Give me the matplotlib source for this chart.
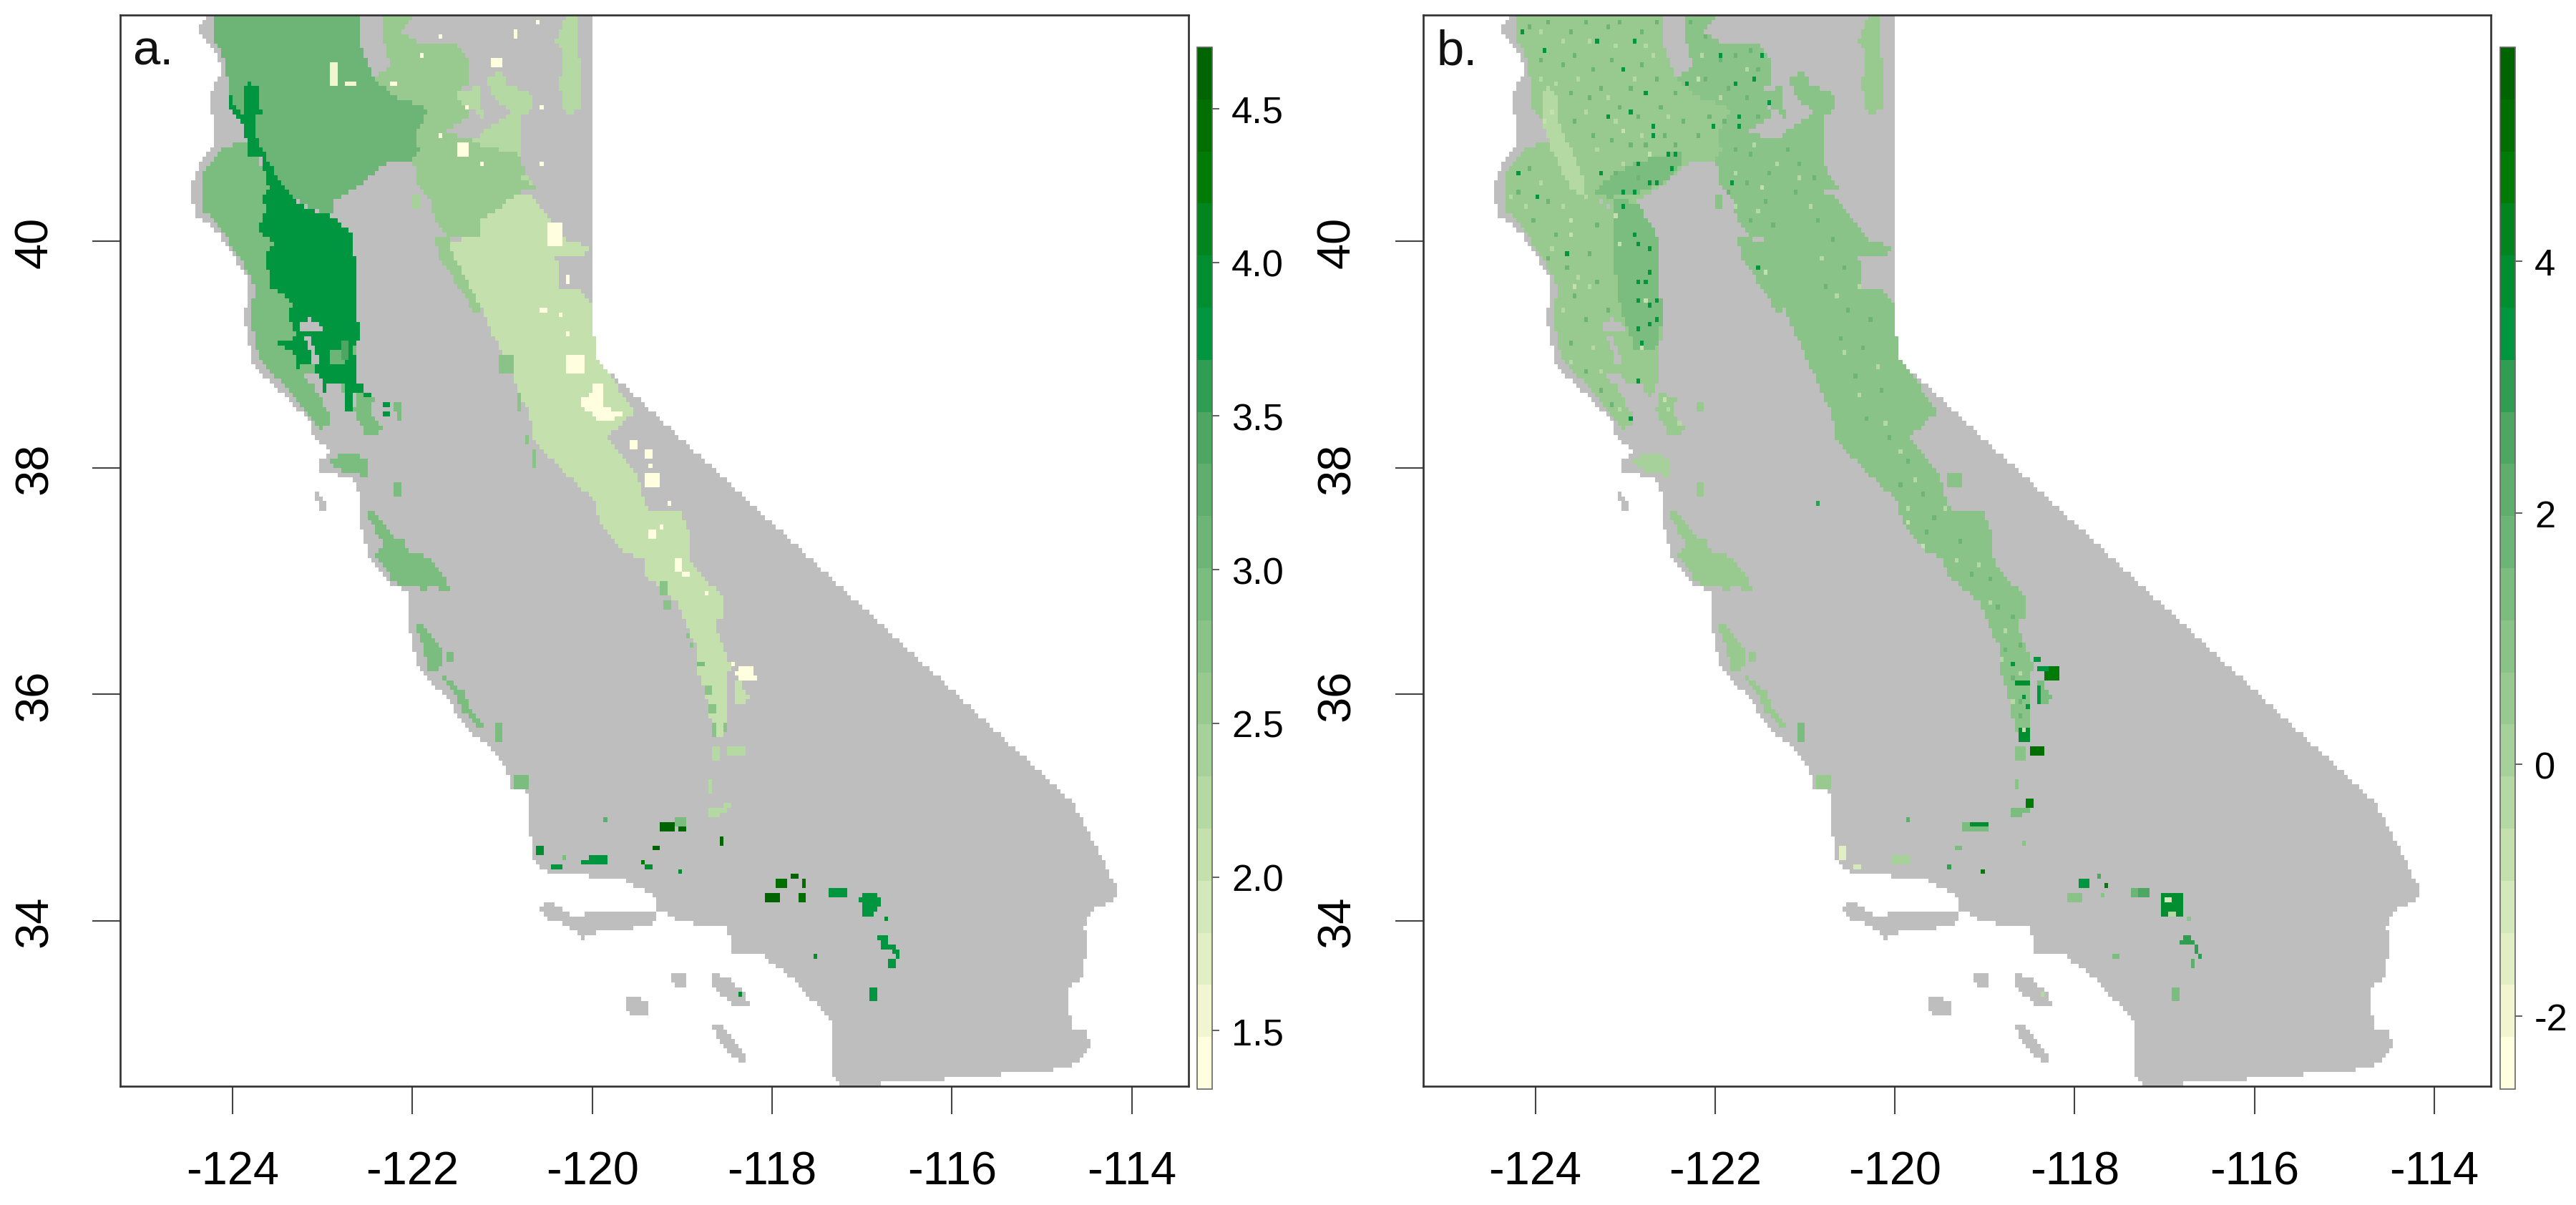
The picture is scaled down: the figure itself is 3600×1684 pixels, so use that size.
import numpy as np
import matplotlib
matplotlib.use('Agg')
import matplotlib.pyplot as plt
from matplotlib.colors import ListedColormap, BoundaryNorm
from matplotlib.path import Path

plt.rcParams['font.family'] = ['Liberation Sans', 'DejaVu Sans']

W, H = 3600, 1685
CELL = 1 / 24.0

xlim = (-125.25, -113.37)
ylim = (32.54, 42.0)
xticks = [-124, -122, -120, -118, -116, -114]
yticks = [34, 36, 38, 40]
cbar_ticks_a = [1.5, 2.0, 2.5, 3.0, 3.5, 4.0, 4.5]
cbar_ticks_b = [-2, 0, 2, 4]
range_a = (1.31, 4.70)
range_b = (-2.58, 5.70)

ramp = ['#ffffe0', '#f1f6d0', '#e2efc4', '#d3e9bb', '#c3e0ad', '#b4d9a3', '#a6d19a',
        '#98ca90', '#8ac388', '#7bbc7f', '#6db577', '#5fae6d', '#4da763', '#2f9e52',
        '#00953f', '#008e30', '#00851f', '#007b05', '#006f00', '#006400']

# outlines, lon/lat
state = [(-124.28, 42.0), (-120.0, 42.0), (-120.0, 38.99), (-114.65, 35.04), (-114.15, 34.27),
         (-114.2, 34.18), (-114.45, 34.09), (-114.53, 33.96), (-114.5, 33.76), (-114.55, 33.5),
         (-114.7, 33.41), (-114.68, 33.05), (-114.5, 33.02), (-114.46, 32.87), (-114.7, 32.7),
         (-115.77, 32.62), (-116.3, 32.59), (-116.8, 32.56), (-116.81, 32.53), (-117.2, 32.53),
         (-117.32, 32.64), (-117.35, 33.13), (-117.75, 33.47), (-118.1, 33.69), (-118.46, 33.69),
         (-118.49, 33.96), (-118.77, 33.96), (-119.07, 34.02), (-119.27, 34.09), (-119.32, 34.22),
         (-119.63, 34.36), (-119.98, 34.39), (-120.44, 34.42), (-120.64, 34.5), (-120.69, 34.77),
         (-120.72, 34.89), (-120.69, 35.13), (-120.92, 35.19), (-120.95, 35.36), (-121.16, 35.57),
         (-121.32, 35.63), (-121.65, 35.99), (-121.95, 36.25), (-122.03, 36.58), (-122.03, 36.9),
         (-122.23, 36.97), (-122.48, 37.2), (-122.57, 37.46), (-122.57, 37.75), (-122.68, 37.91),
         (-123.06, 37.98), (-123.03, 38.08), (-122.88, 38.13), (-123.09, 38.25), (-123.14, 38.41),
         (-123.44, 38.65), (-123.77, 38.9), (-123.87, 39.32), (-123.82, 39.68), (-124.0, 39.88),
         (-124.15, 40.08), (-124.4, 40.22), (-124.48, 40.45), (-124.35, 40.73), (-124.2, 40.87),
         (-124.23, 41.15), (-124.23, 41.35), (-124.1, 41.49), (-124.23, 41.72), (-124.4, 41.86)]
islands = [
    [(-120.57, 34.10), (-120.52, 34.16), (-120.36, 34.13), (-120.21, 34.03), (-119.93, 34.10),
     (-119.58, 34.09), (-119.30, 34.06), (-119.32, 33.97), (-119.58, 33.93), (-119.93, 33.90),
     (-120.11, 33.84), (-120.29, 33.97), (-120.49, 34.02)],
    [(-119.12, 33.53), (-118.98, 33.53), (-118.97, 33.42), (-119.05, 33.42), (-119.12, 33.47)],
    [(-118.65, 33.53), (-118.51, 33.51), (-118.31, 33.38), (-118.26, 33.25), (-118.46, 33.26), (-118.65, 33.42)],
    [(-119.62, 33.33), (-119.5, 33.33), (-119.37, 33.27), (-119.37, 33.16), (-119.55, 33.16), (-119.62, 33.22)],
    [(-118.65, 33.07), (-118.56, 33.07), (-118.31, 32.85), (-118.31, 32.76), (-118.46, 32.79), (-118.61, 32.97)],
    [(-123.1, 37.82), (-122.98, 37.72), (-122.97, 37.63), (-123.05, 37.65)],
]

north = [(-124.2, 42.0), (-122.58, 42.0), (-122.58, 41.77), (-122.45, 41.45), (-122.22, 41.29), (-121.82, 41.17),
         (-121.97, 40.93), (-121.92, 40.81), (-122.02, 40.7), (-122.27, 40.7), (-122.63, 40.47), (-122.86, 40.36),
         (-122.86, 40.22), (-123.24, 40.33), (-123.54, 40.56), (-123.8, 40.87), (-124.05, 41.29), (-124.07, 41.57),
         (-124.2, 41.77)]
coast = [(-124.1, 40.84), (-124.35, 40.59), (-124.33, 40.28), (-124.1, 40.08), (-123.9, 39.82), (-123.75, 39.6),
         (-123.8, 39.32), (-123.7, 38.95), (-123.34, 38.67), (-123.01, 38.34), (-122.83, 38.47), (-122.63, 38.75),
         (-122.63, 39.32), (-123.29, 39.88), (-123.54, 40.45), (-123.82, 40.87)]
coast_b = [(-122.63, 38.67), (-122.43, 38.61), (-122.48, 38.5), (-122.33, 38.36), (-122.38, 38.3), (-122.53, 38.31),
           (-122.65, 38.5)]
marin = [(-122.93, 38.1), (-122.58, 38.11), (-122.5, 38.05), (-122.48, 37.93), (-122.68, 37.94), (-122.88, 38.0)]
dark = [(-124.06, 41.32), (-124.06, 41.2), (-123.87, 41.01), (-123.82, 40.76), (-123.69, 40.76), (-123.59, 40.47),
        (-123.69, 40.36), (-123.59, 40.3), (-123.67, 40.21), (-123.72, 40.11), (-123.52, 39.97), (-123.64, 39.91),
        (-123.57, 39.6), (-123.34, 39.46), (-123.39, 39.37), (-123.29, 39.15), (-123.49, 39.1), (-123.29, 39.0),
        (-123.29, 38.89), (-123.09, 38.92), (-123.04, 38.75), (-122.63, 38.75), (-122.65, 39.09), (-122.58, 39.15),
        (-122.58, 39.29), (-122.63, 39.32), (-122.63, 39.8), (-122.68, 40.08), (-122.88, 40.22), (-123.29, 40.33),
        (-123.49, 40.56), (-123.72, 40.87), (-123.77, 41.1), (-123.65, 41.14), (-123.65, 41.18), (-123.72, 41.19),
        (-123.72, 41.35), (-123.85, 41.45), (-123.87, 41.1)]
gap1 = [(-123.24, 39.27), (-123.14, 39.33), (-123.01, 39.26), (-123.01, 39.2), (-123.24, 39.2)]
gap2 = [(-123.21, 39.15), (-123.14, 39.15), (-123.04, 38.95), (-123.09, 38.89), (-123.14, 39.03)]
gap3 = [(-123.21, 38.82), (-123.04, 38.82), (-122.96, 38.74), (-122.81, 38.73), (-122.68, 38.53), (-122.65, 38.36),
        (-122.83, 38.33), (-122.93, 38.47), (-123.09, 38.72)]
northeast = [(-122.35, 42.0), (-121.99, 42.0), (-122.12, 41.86), (-121.87, 41.73), (-121.51, 41.74), (-121.39, 41.6),
             (-121.39, 41.38), (-121.51, 41.32), (-121.36, 41.1), (-121.64, 40.98), (-121.36, 40.9), (-120.85, 40.87),
             (-120.75, 40.62), (-120.6, 40.47), (-120.85, 40.42), (-121.05, 40.28), (-121.26, 40.19), (-121.26, 40.05),
             (-121.61, 40.04), (-121.74, 40.16), (-121.82, 40.39), (-121.97, 40.53), (-121.97, 40.64), (-122.02, 40.7),
             (-121.92, 40.81), (-121.97, 40.93), (-121.82, 41.17), (-122.22, 41.29), (-122.45, 41.45), (-122.25, 41.55),
             (-122.35, 41.86)]
foothill = [(-121.74, 40.04), (-121.59, 40.04), (-121.21, 39.4), (-121.31, 39.37), (-121.51, 39.63), (-121.72, 39.88)]
patch1 = [(-121.51, 41.33), (-121.26, 41.36), (-121.21, 41.07), (-121.36, 41.18), (-121.51, 41.26)]
patch2 = [(-121.18, 41.46), (-121.0, 41.5), (-120.95, 41.39), (-120.67, 41.29), (-120.65, 41.18), (-120.78, 41.11),
          (-120.78, 40.76), (-121.36, 40.87), (-121.16, 41.01), (-120.9, 41.12), (-121.13, 41.32)]
patch3 = [(-120.29, 42.0), (-120.17, 42.0), (-120.12, 41.2), (-120.29, 41.1), (-120.37, 41.38), (-120.32, 41.63),
          (-120.4, 41.77)]
patch4 = [(-120.83, 40.64), (-120.6, 40.47), (-120.75, 40.53)]
sierra = [(-121.05, 40.28), (-120.85, 40.42), (-120.65, 40.39), (-120.45, 40.19), (-120.29, 40.02), (-120.04, 39.95),
          (-120.09, 39.88), (-120.4, 39.88), (-120.37, 39.57), (-120.14, 39.6), (-119.99, 39.43), (-119.99, 39.2),
          (-119.94, 38.95), (-119.79, 38.81), (-119.53, 38.49), (-119.84, 38.27), (-119.53, 37.96), (-119.41, 37.71),
          (-119.36, 37.62), (-119.03, 37.63), (-118.93, 37.43), (-118.9, 37.15), (-118.7, 36.98), (-118.55, 36.87),
          (-118.55, 36.67), (-118.65, 36.64), (-118.57, 36.47), (-118.47, 36.27), (-118.5, 36.02), (-118.52, 35.68),
          (-118.6, 35.6), (-118.65, 35.68), (-118.78, 36.11), (-118.85, 36.27), (-118.83, 36.42), (-118.96, 36.61),
          (-119.06, 36.81), (-119.21, 36.92), (-119.44, 37.07), (-119.39, 37.18), (-119.67, 37.26), (-119.92, 37.54),
          (-119.97, 37.71), (-120.35, 37.99), (-120.65, 38.25), (-120.7, 38.47), (-121.0, 39.0), (-121.21, 39.37),
          (-121.61, 39.99), (-121.26, 40.05), (-121.26, 40.19)]
santa_cruz = [(-122.48, 37.62), (-122.41, 37.6), (-122.2, 37.38), (-122.08, 37.36), (-122.05, 37.25), (-121.87, 37.23),
              (-121.65, 37.07), (-121.58, 36.91), (-121.7, 36.91), (-121.75, 36.97), (-121.87, 36.92), (-122.0, 36.97),
              (-122.2, 36.98), (-122.41, 37.22), (-122.33, 37.32), (-122.48, 37.55)]
big_sur = [(-121.95, 36.61), (-121.87, 36.61), (-121.75, 36.47), (-121.66, 36.39), (-121.65, 36.29), (-121.75, 36.2),
           (-121.82, 36.23), (-121.87, 36.39), (-121.93, 36.5)]
big_sur2 = [(-121.7, 36.19), (-121.59, 36.12), (-121.42, 36.02), (-121.32, 35.82), (-121.19, 35.72), (-121.29, 35.72),
            (-121.44, 35.85), (-121.54, 36.02), (-121.67, 36.13)]
tehachapi = [(-118.73, 34.99), (-118.6, 34.99), (-118.47, 35.06), (-118.46, 35.0), (-118.6, 34.93), (-118.68, 34.92)]
owens = [(-118.45, 36.33), (-118.4, 36.22), (-118.22, 36.27), (-118.17, 36.13), (-118.35, 36.12), (-118.42, 36.16)]
owens_s = [(-118.4, 36.11), (-118.35, 36.11), (-118.26, 35.96), (-118.35, 35.91), (-118.41, 35.94)]
tahoe = [(-119.99, 38.74), (-119.89, 38.74), (-119.86, 38.55), (-119.66, 38.47), (-119.89, 38.39), (-120.04, 38.5),
         (-120.17, 38.58), (-120.04, 38.64)]
san_jac = [(-116.99, 34.24), (-116.84, 34.24), (-116.79, 34.18), (-116.86, 34.05), (-116.99, 34.05), (-117.03, 34.18)]
arc_a = [(-116.83, 33.87), (-116.71, 33.87), (-116.71, 33.82), (-116.62, 33.78), (-116.58, 33.68), (-116.64, 33.68),
         (-116.66, 33.76), (-116.79, 33.76)]

# panel a: polygons with their value, painted in this order
zones_a = [(coast, 2.9), (north, 3.05), (northeast, 2.6), (foothill, 2.6), (sierra, 2.07), (patch1, 2.25), (patch2, 2.25),
           (patch3, 2.3), (patch4, 2.3), (dark, 3.77), (gap1, np.nan), (gap2, np.nan), (gap3, np.nan), (coast_b, 2.9),
           (marin, 2.95), (santa_cruz, 2.95), (big_sur, 2.9), (big_sur2, 2.85), (tehachapi, 2.25), (owens, 1.35),
           (owens_s, 2.15), (tahoe, 1.35), (san_jac, 3.75), (arc_a, 3.8)]
# panel a: small boxes lon0, lon1, lat0, lat1, value
boxes_a = [(-120.5, -120.35, 39.97, 40.16, 1.4), (-120.29, -120.09, 38.84, 39.0, 1.4), (-119.58, -119.51, 38.16, 38.25, 1.4),
           (-119.41, -119.33, 38.08, 38.16, 1.4), (-119.41, -119.25, 37.84, 37.96, 1.4), (-119.37, -119.33, 37.99, 38.03, 1.4),
           (-120.88, -120.83, 41.79, 41.87, 1.4), (-121.1, -121.03, 41.55, 41.62, 1.4), (-121.49, -121.4, 40.76, 40.87, 1.4),
           (-120.29, -120.24, 39.63, 39.7, 1.4), (-120.58, -120.5, 39.37, 39.41, 1.4), (-120.28, -120.25, 39.16, 39.2, 1.4),
           (-122.9, -122.86, 41.38, 41.59, 1.6), (-122.75, -122.65, 41.38, 41.4, 1.5), (-122.25, -122.17, 41.38, 41.4, 1.4),
           (-119.08, -119.03, 37.08, 37.21, 1.4), (-118.98, -118.92, 37.04, 37.08, 1.4), (-119.36, -119.31, 37.38, 37.45, 1.4),
           (-119.25, -119.21, 37.45, 37.49, 1.4),
           (-122.0, -121.91, 40.31, 40.42, 2.4), (-122.9, -122.78, 38.93, 39.05, 3.1), (-122.78, -122.72, 38.98, 39.12, 3.4),
           (-123.0, -122.96, 38.69, 38.73, 3.8), (-122.73, -122.68, 38.52, 38.73, 3.8), (-122.64, -122.55, 38.66, 38.73, 3.7),
           (-122.52, -122.46, 38.62, 38.66, 3.8), (-122.32, -122.25, 38.54, 38.59, 3.8), (-122.32, -122.25, 38.45, 38.49, 3.8),
           (-122.18, -122.12, 38.51, 38.57, 2.9), (-122.15, -122.12, 38.42, 38.47, 2.9), (-122.2, -122.14, 37.76, 37.86, 2.9),
           (-121.62, -121.55, 36.29, 36.36, 2.9), (-121.08, -120.99, 35.61, 35.74, 2.9), (-120.86, -120.71, 35.17, 35.28, 2.85),
           (-118.65, -118.58, 35.41, 35.54, 2.2), (-118.47, -118.32, 35.46, 35.54, 2.2), (-118.68, -118.66, 35.15, 35.23, 2.2),
           (-121.03, -120.88, 38.84, 38.99, 2.7), (-120.83, -120.8, 38.5, 38.67, 2.7), (-120.73, -120.7, 38.2, 38.3, 2.7),
           (-120.67, -120.65, 38.0, 38.15, 2.7), (-119.23, -119.18, 36.9, 36.99, 2.8), (-119.2, -119.15, 36.76, 36.82, 2.8),
           (-118.96, -118.93, 36.5, 36.53, 2.8), (-118.92, -118.89, 36.42, 36.46, 2.8), (-118.83, -118.75, 36.24, 36.28, 2.9),
           (-118.74, -118.68, 36.0, 36.06, 2.8), (-118.68, -118.64, 35.84, 35.9, 2.8), (-118.65, -118.62, 35.63, 35.72, 2.8),
           (-118.55, -118.52, 35.67, 35.74, 2.8),
           (-119.25, -119.08, 34.79, 34.87, 4.6), (-119.04, -118.96, 34.79, 34.84, 4.6), (-119.07, -118.96, 34.84, 34.91, 3.0),
           (-118.59, -118.54, 34.66, 34.74, 4.6), (-119.32, -119.25, 34.62, 34.66, 4.6), (-120.62, -120.54, 34.58, 34.65, 3.9),
           (-120.45, -120.36, 34.45, 34.5, 3.7), (-120.02, -119.83, 34.5, 34.58, 3.7), (-120.11, -120.07, 34.5, 34.53, 3.8),
           (-119.45, -119.41, 34.5, 34.53, 4.2), (-119.4, -119.36, 34.45, 34.5, 3.9), (-119.03, -118.99, 34.42, 34.45, 3.9),
           (-119.87, -119.83, 34.87, 34.91, 3.3), (-120.32, -120.3, 34.53, 34.58, 3.0),
           (-118.08, -117.91, 34.18, 34.24, 4.6), (-117.96, -117.83, 34.29, 34.37, 4.5), (-117.79, -117.7, 34.37, 34.42, 4.6),
           (-117.66, -117.62, 34.29, 34.37, 4.5), (-117.7, -117.65, 34.19, 34.24, 4.5), (-117.35, -117.17, 34.2, 34.28, 3.75),
           (-116.73, -116.7, 34.0, 34.04, 3.9), (-116.69, -116.65, 33.58, 33.67, 3.8), (-116.91, -116.83, 33.29, 33.41, 3.8),
           (-117.54, -117.5, 33.67, 33.7, 3.9), (-118.36, -118.33, 33.33, 33.37, 3.9)]
# single pale cells lon, lat in panel a
spots_a = [(-121.69, 41.81), (-121.89, 41.65), (-120.61, 41.94), (-120.57, 40.69), (-121.23, 40.69), (-121.69, 40.94),
           (-121.39, 41.19), (-120.56, 41.18), (-120.35, 39.35), (-118.72, 36.9), (-119.16, 37.69)]

# panel b: same outlines, other values, plus read-off darker and paler parts
pale_stripe = [(-123.89, 41.38), (-123.75, 41.29), (-123.75, 41.07), (-123.5, 40.64), (-123.43, 40.39), (-123.6, 40.45),
               (-123.82, 40.81), (-123.92, 41.07)]
valley_edge = [(-123.14, 40.39), (-122.86, 40.33), (-122.65, 40.08), (-122.59, 39.32), (-122.65, 39.06), (-122.9, 39.06),
               (-123.07, 39.46), (-123.14, 39.94)]
shasta = [(-122.9, 40.7), (-122.36, 40.79), (-122.4, 40.64), (-122.61, 40.5), (-122.9, 40.42), (-123.18, 40.39), (-123.36, 40.45)]
sierra_mid = [(-119.4, 37.5), (-119.05, 37.5), (-118.7, 36.85), (-118.7, 36.5), (-119.0, 36.9), (-119.45, 37.15)]
arc_b = [(-116.83, 33.83), (-116.75, 33.87), (-116.65, 33.81), (-116.58, 33.68), (-116.63, 33.68), (-116.68, 33.77), (-116.81, 33.77)]

zones_b = [(coast, 0.45), (north, 0.5), (northeast, 0.75), (foothill, 0.75), (sierra, 0.75), (patch1, 0.75), (patch2, 0.75),
           (patch3, 0.6), (patch4, 0.75), (dark, 0.5), (gap1, np.nan), (gap2, np.nan), (gap3, np.nan), (coast_b, 0.45),
           (marin, 0.3), (santa_cruz, 0.4), (big_sur, 0.5), (big_sur2, 0.6), (pale_stripe, -0.1), (valley_edge, 1.35),
           (shasta, 1.3), (sierra_mid, 1.0), (owens_s, 1.2), (tehachapi, 1.2), (arc_b, 3.0)]
boxes_b = [(-122.0, -121.91, 40.31, 40.42, 1.1), (-122.18, -122.12, 38.51, 38.57, 0.7), (-122.2, -122.14, 37.76, 37.86, 0.6),
           (-121.62, -121.55, 36.29, 36.36, 0.7), (-121.08, -120.99, 35.61, 35.74, 1.3), (-120.86, -120.71, 35.17, 35.28, 0.4),
           (-118.32, -118.16, 36.12, 36.22, 4.8), (-118.41, -118.32, 36.2, 36.24, 3.5), (-118.39, -118.37, 35.94, 36.07, 3.5),
           (-118.64, -118.53, 36.09, 36.12, 3.8), (-118.62, -118.53, 35.6, 35.7, 3.8), (-118.48, -118.34, 35.47, 35.53, 4.9),
           (-118.64, -118.55, 35.41, 35.52, 0.9), (-118.65, -118.63, 35.17, 35.23, 1.0), (-118.54, -118.46, 34.99, 35.07, 4.8),
           (-119.24, -118.96, 34.79, 34.88, 1.5), (-119.17, -118.96, 34.83, 34.86, 4.0), (-119.87, -119.83, 34.88, 34.91, 2.0),
           (-118.58, -118.55, 34.67, 34.71, 1.0), (-119.31, -119.28, 34.62, 34.65, 1.5), (-119.4, -119.38, 34.46, 34.49, 3.0),
           (-119.03, -119.0, 34.42, 34.44, 4.5), (-120.63, -120.54, 34.57, 34.65, -1.5), (-120.46, -120.37, 34.45, 34.49, -1.0),
           (-120.04, -119.86, 34.51, 34.57, 0.0), (-117.94, -117.84, 34.3, 34.36, 3.5), (-117.75, -117.7, 34.37, 34.41, 2.5),
           (-118.08, -117.94, 34.17, 34.24, 0.8), (-117.65, -117.63, 34.29, 34.34, 4.8), (-117.7, -117.66, 34.2, 34.23, 1.0),
           (-117.36, -117.16, 34.2, 34.29, 1.6), (-117.29, -117.18, 34.21, 34.27, 2.8), (-117.02, -116.79, 34.04, 34.23, 3.8),
           (-116.99, -116.93, 34.17, 34.19, -1.0), (-116.93, -116.9, 34.06, 34.09, -0.5), (-116.7, -116.66, 33.59, 33.65, 2.0),
           (-116.91, -116.84, 33.31, 33.41, 1.5), (-116.75, -116.71, 33.99, 34.02, 1.0), (-117.56, -117.52, 33.66, 33.7, 1.2),
           (-118.37, -118.33, 33.33, 33.37, -0.5), (-119.42, -119.26, 37.83, 37.94, 0.9), (-118.44, -118.4, 36.29, 36.33, 3.5),
           (-120.88, -120.85, 37.68, 37.71, 3.0)]
# single cells
dark_b = [(-124.14, 41.86), (-124.19, 40.6), (-123.96, 40.4), (-123.64, 39.9), (-122.68, 41.02), (-122.7, 40.93), (-122.86, 40.69),
          (-122.72, 40.53), (-122.63, 40.53), (-122.52, 40.77), (-122.43, 40.76), (-122.49, 40.64), (-123.0, 40.3), (-122.88, 40.43),
          (-122.91, 40.07), (-122.86, 39.99), (-122.72, 39.73), (-122.86, 39.64), (-122.74, 39.43), (-122.86, 39.47), (-122.72, 39.27),
          (-122.84, 39.23), (-122.82, 39.1), (-122.86, 38.77), (-122.89, 38.55), (-122.95, 38.43), (-121.81, 40.5), (-122.33, 41.38),
          (-122.01, 41.02), (-121.72, 41.01), (-121.51, 39.78), (-121.74, 41.1), (-122.95, 41.15), (-123.29, 40.6), (-123.0, 40.45),
          (-122.72, 39.94), (-122.79, 39.66), (-122.66, 39.46), (-122.63, 39.32), (-121.58, 41.43), (-121.76, 41.4), (-121.47, 41.63),
          (-121.93, 41.66), (-121.4, 41.24), (-123.9, 41.7), (-123.3, 41.75), (-123.0, 41.5), (-122.75, 41.3), (-123.2, 41.1),
          (-122.9, 41.75), (-118.69, 36.27), (-118.51, 35.89), (-118.57, 35.96)]
mid_b = [(-124.05, 41.9), (-123.85, 41.95), (-123.6, 41.85), (-123.45, 41.92), (-123.2, 41.88), (-123.05, 41.95), (-122.8, 41.85),
         (-122.65, 41.92), (-123.95, 41.6), (-123.7, 41.55), (-123.55, 41.65), (-123.35, 41.5), (-123.15, 41.6), (-122.95, 41.35),
         (-122.8, 41.55), (-122.65, 41.45), (-123.6, 41.3), (-123.4, 41.25), (-123.25, 41.35), (-123.05, 41.2), (-122.85, 41.1),
         (-122.6, 41.2), (-122.45, 41.3), (-123.55, 41.05), (-123.35, 40.95), (-123.15, 40.9), (-122.95, 40.85), (-122.75, 40.85),
         (-122.55, 40.95), (-122.35, 41.05), (-122.2, 40.95), (-122.05, 41.1), (-123.1, 40.6), (-122.85, 40.55), (-122.45, 40.85),
         (-122.25, 41.95), (-122.1, 41.8), (-121.95, 41.6), (-121.75, 41.65), (-121.6, 41.7), (-121.5, 41.5), (-122.1, 41.45),
         (-121.85, 41.35), (-121.65, 41.25), (-121.5, 41.1), (-121.9, 41.05), (-121.75, 40.8), (-121.6, 40.75), (-121.4, 40.6),
         (-121.2, 40.8), (-121.05, 40.7), (-120.9, 40.55), (-121.85, 40.45), (-121.65, 40.5), (-121.45, 40.35), (-121.6, 40.2),
         (-121.35, 40.15), (-121.1, 40.42), (-124.2, 40.45), (-124.05, 40.65), (-123.85, 40.35), (-124.0, 40.2), (-123.75, 40.05),
         (-123.85, 39.85), (-123.65, 39.75), (-123.4, 39.9), (-123.55, 39.5), (-123.45, 39.3), (-123.6, 39.1), (-123.45, 38.85),
         (-123.25, 38.7), (-123.15, 38.55), (-122.95, 38.6), (-123.3, 40.15), (-123.3, 39.65), (-123.2, 39.4), (-120.85, 40.2),
         (-120.7, 40.0), (-120.55, 39.75), (-120.75, 39.6), (-120.5, 39.4), (-120.25, 39.3), (-120.6, 39.15), (-120.35, 39.05),
         (-120.45, 38.8), (-120.15, 38.7), (-120.3, 38.45), (-120.05, 38.25), (-119.85, 38.05), (-119.95, 37.85), (-119.7, 37.75),
         (-119.55, 37.55), (-119.65, 37.45), (-119.25, 37.35), (-119.15, 37.05), (-118.95, 37.0), (-118.85, 36.75), (-118.7, 36.7),
         (-118.75, 36.4), (-118.6, 36.45), (-118.7, 36.15), (-118.6, 35.95), (-118.62, 35.8)]
pale_b = [(-123.89, 41.07), (-123.8, 41.15), (-123.0, 40.98), (-123.62, 40.19), (-123.59, 40.07), (-123.55, 39.61), (-122.75, 39.47),
          (-122.8, 39.06), (-122.57, 38.6), (-122.18, 41.43), (-121.49, 40.47), (-121.44, 39.71), (-123.09, 40.22), (-123.07, 39.98),
          (-122.72, 40.76), (-119.67, 37.31), (-119.84, 37.51), (-118.72, 35.75), (-118.55, 35.68)]
pale2_b = [(-123.95, 41.85), (-123.7, 41.75), (-123.4, 41.78), (-123.1, 41.72), (-122.75, 41.72), (-123.95, 41.45), (-123.75, 41.4),
           (-123.5, 41.45), (-123.2, 41.25), (-122.9, 41.45), (-122.7, 41.65), (-123.45, 41.15), (-123.1, 41.05), (-122.8, 40.95),
           (-122.5, 41.1), (-123.3, 40.8), (-123.0, 40.7), (-122.15, 41.65), (-121.85, 41.8), (-121.65, 41.5), (-121.95, 41.25),
           (-121.55, 40.85), (-121.3, 40.7), (-121.05, 40.55), (-121.75, 40.6), (-121.5, 40.25), (-121.75, 40.3), (-124.25, 40.4),
           (-124.1, 40.3), (-123.95, 40.5), (-123.7, 40.3), (-123.8, 39.95), (-123.5, 39.7), (-123.7, 39.4), (-123.4, 39.6),
           (-123.6, 38.95), (-123.35, 39.05), (-123.25, 38.85), (-123.05, 38.5), (-122.5, 38.5), (-122.4, 38.4), (-120.95, 40.3),
           (-120.8, 39.85), (-120.65, 39.5), (-120.4, 39.6), (-120.55, 39.0), (-120.2, 38.9), (-120.4, 38.65), (-120.1, 38.4),
           (-119.95, 38.15), (-119.75, 37.9), (-119.85, 37.65), (-119.45, 37.65), (-119.3, 37.2), (-119.05, 37.15), (-118.95, 36.8),
           (-118.75, 36.55), (-118.8, 36.3), (-118.6, 36.2), (-118.68, 35.95)]


lons = np.arange(xlim[0], xlim[1] + CELL, CELL)
lats = np.arange(ylim[0], ylim[1] + CELL, CELL)
cx, cy = np.meshgrid(lons[:-1] + CELL / 2, lats[:-1] + CELL / 2)
pts = np.column_stack([cx.ravel(), cy.ravel()])


def inside(poly):
    return Path(poly + [poly[0]]).contains_points(pts).reshape(cx.shape)


land = inside(state)
for isl in islands:
    land |= inside(isl)


def paint(zones, boxes, singles, keep_gaps=True):
    z = np.full(cx.shape, np.nan)
    for poly, val in zones:
        z[inside(poly)] = val
    for x0, x1, y0, y1, val in boxes:
        z[(cx >= x0 - CELL / 4) & (cx <= x1 + CELL / 4) & (cy >= y0 - CELL / 4) & (cy <= y1 + CELL / 4)] = val
    for spots, val in singles:
        for x, y in spots:
            i = np.abs(lats[:-1] + CELL / 2 - y).argmin()
            j = np.abs(lons[:-1] + CELL / 2 - x).argmin()
            if np.isfinite(z[i, j]) or not keep_gaps:
                z[i, j] = val
    return z


grid_a = paint(zones_a, boxes_a, [(spots_a, 1.4)], keep_gaps=False)
grid_b = paint(zones_b, boxes_b, [(mid_b, 1.9), (pale2_b, -0.15), (dark_b, 3.3), (pale_b, -0.7)])

fig = plt.figure(figsize=(W / 300, H / 300), dpi=300)
fig.patch.set_facecolor('white')


def panel(x0, x1, cb0, cb1, grid, vrange, cticks, cfmt, tag, tagx):
    ax = fig.add_axes([x0 / W, 1 - 1519 / H, (x1 - x0) / W, 1497 / H])
    ax.pcolormesh(lons, lats, np.where(land, 1.0, np.nan), cmap=ListedColormap(['#bebebe']), antialiased=False)
    bounds = np.linspace(vrange[0], vrange[1], len(ramp) + 1)
    norm = BoundaryNorm(bounds, len(ramp))
    mesh = ax.pcolormesh(lons, lats, grid, cmap=ListedColormap(ramp), norm=norm, antialiased=False)
    ax.set_xlim(xlim)
    ax.set_ylim(ylim)
    ax.set_xticks(xticks)
    ax.set_yticks(yticks)
    ax.set_xticklabels([str(v) for v in xticks], fontsize=15.6)
    ax.set_yticklabels([str(v) for v in yticks], fontsize=15.6, rotation=90, va='center')
    ax.tick_params(length=9.4, width=0.5, color='#444444', pad=12)
    for s in ax.spines.values():
        s.set_linewidth(0.65)
        s.set_color('#333333')
    ax.text(tagx, 0.954, tag, transform=ax.transAxes, fontsize=16.5, color='#111111')

    cax = fig.add_axes([cb0 / W, 1 - 1523 / H, (cb1 - cb0) / W, (1523 - 67) / H])
    cb = fig.colorbar(mesh, cax=cax, ticks=cticks, spacing='proportional')
    cb.minorticks_off()
    cb.ax.set_yticklabels([cfmt % v for v in cticks], fontsize=12.6)
    cb.ax.tick_params(length=2.5, width=0.4, color='#444444', pad=4)
    cb.outline.set_linewidth(0.4)
    cb.outline.set_edgecolor('#666666')


panel(168, 1661, 1673, 1694, grid_a, range_a, cbar_ticks_a, '%.1f', 'a.', 0.0114)
panel(1988.5, 3481, 3494, 3515, grid_b, range_b, cbar_ticks_b, '%d', 'b.', 0.013)

fig.savefig('out.png', dpi=300)
plt.close(fig)
